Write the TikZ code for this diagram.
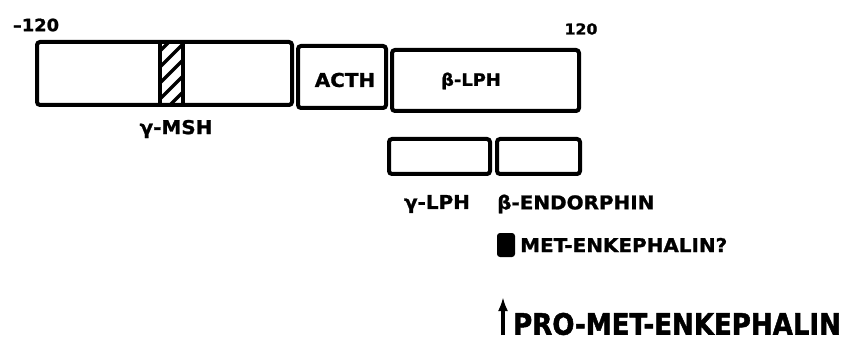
\documentclass[tikz,border=0pt]{standalone}
\usepackage{fontspec}
\usepackage{tikz}
\usetikzlibrary{arrows.meta}
\newfontfamily\lblfont{DejaVu Sans}[FakeStretch=1.05,FakeBold=1.2]
\newfontfamily\bigfont{DejaVu Sans}[FakeStretch=0.88,FakeBold=1.5]

\begin{document}
\begin{tikzpicture}[>=Latex,x=1pt,y=-1pt,
  seg/.style={line width=4pt,rounded corners=3pt},
  lbl/.style={inner sep=0pt,font=\lblfont\bfseries\fontsize{19}{19}\selectfont},
  bigl/.style={inner sep=0pt,font=\bigfont\bfseries\fontsize{29.6}{30}\selectfont}]
  \useasboundingbox (0,0) rectangle (844,350);
  % scale ends
  \node[lbl,font=\lblfont\bfseries\fontsize{17}{17}\selectfont] (lo) at (36,25) {–120};
  \node[lbl,font=\lblfont\bfseries\fontsize{15}{15}\selectfont] (hi) at (581,29) {120};
  % precursor: N-terminal part with hatched gamma-MSH strip
  \begin{scope}
    \clip (160,42) rectangle (183,105);
    \foreach \s in {0,16,...,96}{
      \draw[line width=3.5pt] (150,{105-\s+20}) -- (190,{105-\s-20});
    }
  \end{scope}
  \draw[seg] (37,42) rectangle (292,105);
  \draw[line width=3.5pt] (160,42) -- (160,105);
  \draw[line width=3.5pt] (183,42) -- (183,105);
  % ACTH and beta-LPH
  \draw[seg] (298,46) rectangle (386,108);
  \draw[seg] (392,50) rectangle (579,111);
  \node[lbl] (acth) at (345,80) {ACTH};
  \node[lbl,font=\lblfont\bfseries\fontsize{17}{17}\selectfont] (blph) at (471,81) {β-LPH};
  \node[lbl] (gmsh) at (176,129) {γ-MSH};
  % cleavage of beta-LPH
  \draw[seg] (389,139) rectangle (490,174);
  \draw[seg] (497,139) rectangle (580,174);
  \node[lbl] (glph) at (437,204) {γ-LPH};
  \node[lbl,anchor=west] (bend) at (497,204) {β-ENDORPHIN};
  % met-enkephalin
  \fill[rounded corners=3pt] (497,233) rectangle (515,257);
  \node[lbl,anchor=west] (menk) at (520,245) {MET-ENKEPHALIN?};
  \coordinate (pbot) at (503,335);
  \coordinate (ptop) at (503,297);
  \draw[line width=3.5pt,-{Latex[length=14pt,width=10pt]}] (pbot) -- (ptop);
  \node[bigl,anchor=west] (promenk) at (513,324) {PRO-MET-ENKEPHALIN};
\end{tikzpicture}
\end{document}
